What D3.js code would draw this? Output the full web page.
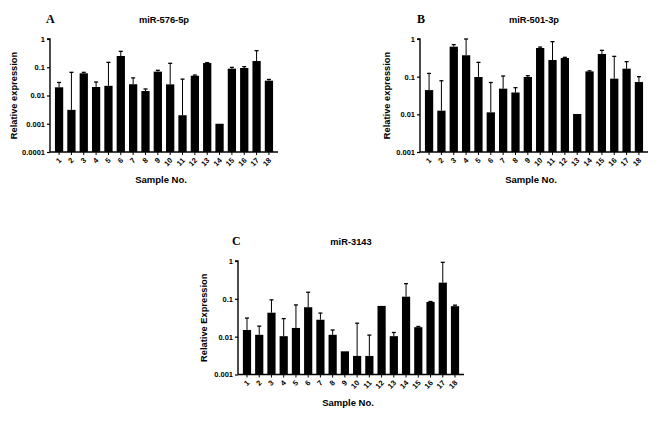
<!DOCTYPE html>
<html><head><meta charset="utf-8">
<script src="https://cdn.jsdelivr.net/npm/d3@7"></script>
<style>body{margin:0;background:#fff;} svg{display:block;}</style>
</head><body>
<svg id="chart" width="671" height="432"></svg>
<script>
const samples = ["1","2","3","4","5","6","7","8","9","10","11","12","13","14","15","16","17","18"];

const mir576Mean = [0.0195,0.0031,0.061,0.020,0.022,0.25,0.025,0.0144,0.070,0.0248,0.0020,0.050,0.141,0.0010,0.089,0.094,0.166,0.0335];
const mir576SD   = [0.0095,0.063,0.005,0.010,0.127,0.116,0.017,0.0026,0.008,0.113,0.036,0.003,0.005,0,0.010,0.011,0.22,0.0035];

const mir501Mean = [0.044,0.0125,0.625,0.37,0.098,0.0113,0.048,0.038,0.098,0.577,0.277,0.313,0.0102,0.138,0.40,0.0885,0.163,0.072];
const mir501SD   = [0.078,0.0655,0.085,0.63,0.142,0.0587,0.056,0.013,0.008,0.033,0.573,0.013,0,0.005,0.10,0.2575,0.087,0.028];

const mir3143Mean = [0.015,0.0112,0.043,0.0103,0.017,0.060,0.028,0.0112,0.0041,0.0031,0.0031,0.065,0.0103,0.114,0.0178,0.083,0.268,0.064];
const mir3143SD   = [0.016,0.0078,0.051,0.0197,0.052,0.089,0.014,0.0038,0,0.0196,0.0079,0,0.0026,0.138,0.0008,0.002,0.652,0.004];

const tickA = [0.0001,0.001,0.01,0.1,1];
const tickA_labels = ["0.0001","0.001","0.01","0.1","1"];
const tickBC = [0.001,0.01,0.1,1];
const tickBC_labels = ["0.001","0.01","0.1","1"];

const svg = d3.select("#chart");
const FONT = "'Liberation Sans', Arial, sans-serif";

function panel(o){
  const g = svg.append("g");
  const x = d3.scaleBand().domain(samples).range([o.x0, o.x1]).paddingInner(0.33).paddingOuter(0.4);
  const y = d3.scaleLog().domain(o.domain).range([o.yb, o.yt]);
  const data = samples.map((s,i)=>({s, m:o.mean[i], sd:o.sd[i]}));

  g.selectAll("rect.bar").data(data).enter().append("rect")
    .attr("x", d=>x(d.s)).attr("width", x.bandwidth())
    .attr("y", d=>y(d.m)).attr("height", d=>o.yb - y(d.m))
    .attr("fill","#000");
  const eb = data.filter(d=>d.sd>0);
  g.selectAll("line.err").data(eb).enter().append("line")
    .attr("x1", d=>x(d.s)+x.bandwidth()/2).attr("x2", d=>x(d.s)+x.bandwidth()/2)
    .attr("y1", d=>y(d.m)).attr("y2", d=>y(d.m+d.sd))
    .attr("stroke","#000").attr("stroke-width",1);
  g.selectAll("line.cap").data(eb).enter().append("line")
    .attr("x1", d=>x(d.s)+x.bandwidth()/2-2).attr("x2", d=>x(d.s)+x.bandwidth()/2+2)
    .attr("y1", d=>y(d.m+d.sd)).attr("y2", d=>y(d.m+d.sd))
    .attr("stroke","#000").attr("stroke-width",1.3);

  const ya = d3.axisLeft(y).tickValues(o.ticks).tickFormat((d,i)=>o.tickLabels[i]).tickSize(3).tickPadding(2);
  const yg = g.append("g").attr("transform",`translate(${o.x0},0)`).call(ya);
  yg.select(".domain").attr("stroke-width",1.4).attr("d",`M-3,${o.yt}H0V${o.yb}`);
  yg.selectAll(".tick line").attr("stroke-width",1.2);
  yg.selectAll("text").attr("font-family",FONT).attr("font-weight","bold").attr("font-size","7.5px").attr("fill","#000");

  const xa = d3.axisBottom(x).tickSize(3).tickPadding(2);
  const xg = g.append("g").attr("transform",`translate(0,${o.yb})`).call(xa);
  xg.select(".domain").attr("stroke-width",1.4).attr("d",`M${o.x0},0H${o.x1}`);
  xg.selectAll(".tick line").attr("stroke-width",1);
  xg.selectAll("text").attr("font-family",FONT).attr("font-weight","bold").attr("font-size","7.5px").attr("fill","#000")
    .attr("x",0).attr("y",0).attr("dy","0.35em").attr("dx","0")
    .attr("text-anchor","end")
    .attr("transform","translate(1,7) rotate(-45)");

  const cx = (o.x0+o.x1)/2;
  g.append("text").attr("x",cx).attr("y",o.yt-16).attr("text-anchor","middle")
    .attr("font-family",FONT).attr("font-weight","bold").attr("font-size","9.3px").text(o.title);
  g.append("text").attr("x",cx-3).attr("y",o.yb+31).attr("text-anchor","middle")
    .attr("font-family",FONT).attr("font-weight","bold").attr("font-size","9.5px").text("Sample No.");
  g.append("text").attr("transform",`translate(${o.ylx},${(o.yt+o.yb)/2}) rotate(-90)`).attr("text-anchor","middle")
    .attr("font-family",FONT).attr("font-weight","bold").attr("font-size","9.3px").text(o.ylabel);
  g.append("text").attr("x",o.lx).attr("y",o.yt-16).attr("font-family","'Liberation Serif', 'Times New Roman', serif")
    .attr("font-weight","bold").attr("font-size","12px").text(o.letter);
}

panel({x0:50,x1:278,yt:39,yb:152,domain:[0.0001,1],ticks:tickA,tickLabels:tickA_labels,
  mean:mir576Mean,sd:mir576SD,title:"miR-576-5p",ylabel:"Relative expression",ylx:17,lx:46,letter:"A"});
panel({x0:420,x1:648,yt:39,yb:152,domain:[0.001,1],ticks:tickBC,tickLabels:tickBC_labels,
  mean:mir501Mean,sd:mir501SD,title:"miR-501-3p",ylabel:"Relative expression",ylx:390,lx:417,letter:"B"});
panel({x0:238,x1:464,yt:261,yb:374.5,domain:[0.001,1],ticks:tickBC,tickLabels:tickBC_labels,
  mean:mir3143Mean,sd:mir3143SD,title:"miR-3143",ylabel:"Relative Expression",ylx:207,lx:232,letter:"C"});
</script>
</body></html>
